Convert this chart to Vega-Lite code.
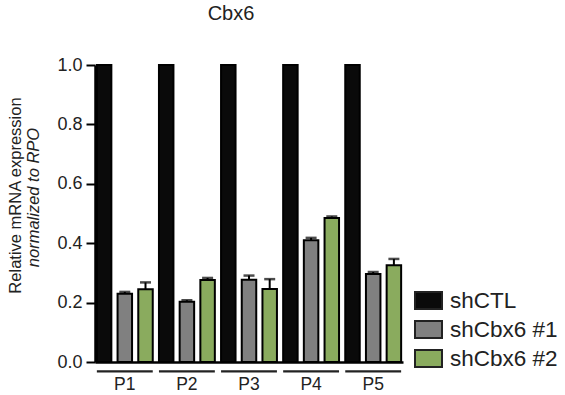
{
  "$schema": "https://vega.github.io/schema/vega-lite/v6.json",
  "autosize": "none",
  "width": 308,
  "height": 297,
  "padding": {"left": 95, "top": 65, "right": 162, "bottom": 33},
  "title": {"text": "Cbx6", "fontSize": 20, "fontWeight": "normal", "font": "Liberation Sans", "color": "#222", "anchor": "middle", "dx": -18, "offset": 32},
  "data": {"values": [
    {"group": "P1", "cond": "shCTL", "v": 1.0, "hi": null},
    {"group": "P1", "cond": "shCbx6 #1", "v": 0.230, "hi": 0.236},
    {"group": "P1", "cond": "shCbx6 #2", "v": 0.245, "hi": 0.268},
    {"group": "P2", "cond": "shCTL", "v": 1.0, "hi": null},
    {"group": "P2", "cond": "shCbx6 #1", "v": 0.203, "hi": 0.208},
    {"group": "P2", "cond": "shCbx6 #2", "v": 0.276, "hi": 0.283},
    {"group": "P3", "cond": "shCTL", "v": 1.0, "hi": null},
    {"group": "P3", "cond": "shCbx6 #1", "v": 0.277, "hi": 0.291},
    {"group": "P3", "cond": "shCbx6 #2", "v": 0.246, "hi": 0.279},
    {"group": "P4", "cond": "shCTL", "v": 1.0, "hi": null},
    {"group": "P4", "cond": "shCbx6 #1", "v": 0.410, "hi": 0.418},
    {"group": "P4", "cond": "shCbx6 #2", "v": 0.485, "hi": 0.490},
    {"group": "P5", "cond": "shCTL", "v": 1.0, "hi": null},
    {"group": "P5", "cond": "shCbx6 #1", "v": 0.296, "hi": 0.303},
    {"group": "P5", "cond": "shCbx6 #2", "v": 0.326, "hi": 0.347}
  ]},
  "encoding": {
    "x": {"field": "group", "type": "nominal", "sort": ["P1", "P2", "P3", "P4", "P5"],
      "scale": {"paddingInner": 0.1, "paddingOuter": 0.03},
      "axis": {"title": null, "labelAngle": 0, "ticks": false, "domainWidth": 2.5, "domainColor": "#000", "labelFontSize": 17.5, "labelPadding": 13, "labelColor": "#222"}},
    "xOffset": {"field": "cond", "type": "nominal", "sort": ["shCTL", "shCbx6 #1", "shCbx6 #2"], "scale": {"paddingInner": 0.3, "paddingOuter": 0}}
  },
  "layer": [
    {
      "mark": {"type": "bar", "stroke": "#000", "strokeWidth": 2},
      "encoding": {
        "y": {"field": "v", "type": "quantitative", "scale": {"domain": [0, 1], "nice": false},
          "axis": {"values": [0, 0.2, 0.4, 0.6, 0.8, 1.0], "format": ".1f", "title": "Relative mRNA expression", "titleFontSize": 16.5, "titleFontWeight": "normal", "titleColor": "#222", "titleX": -72, "titleY": 130, "labelFontSize": 18, "labelColor": "#222", "labelPadding": 4, "tickSize": 9, "tickWidth": 2, "tickColor": "#000", "domainWidth": 2.5, "domainColor": "#000", "grid": false}},
        "color": {"field": "cond", "type": "nominal", "sort": ["shCTL", "shCbx6 #1", "shCbx6 #2"],
          "scale": {"domain": ["shCTL", "shCbx6 #1", "shCbx6 #2"], "range": ["#0a0a0a", "#808080", "#8aab5e"]},
          "legend": {"title": null, "orient": "none", "legendX": 319, "legendY": 221, "symbolType": "M-1,-0.63L1,-0.63L1,0.63L-1,0.63Z", "symbolSize": 729, "symbolStrokeColor": "#222", "symbolStrokeWidth": 2, "symbolOpacity": 1, "labelFontSize": 22.5, "labelColor": "#222", "labelOffset": 7, "rowPadding": 1, "padding": 0}}
      }
    },
    {
      "mark": {"type": "rule", "strokeWidth": 2, "color": "#000"},
      "encoding": {
        "y": {"field": "v", "type": "quantitative", "axis": null},
        "y2": {"field": "hi"}
      }
    },
    {
      "mark": {"type": "tick", "size": 11, "thickness": 2.5, "color": "#000"},
      "encoding": {
        "y": {"field": "hi", "type": "quantitative", "axis": null}
      }
    },
    {
      "data": {"values": [{"group": "P1"}, {"group": "P2"}, {"group": "P3"}, {"group": "P4"}, {"group": "P5"}]},
      "mark": {"type": "rect", "color": "#222"},
      "encoding": {
        "xOffset": null,
        "y": {"datum": -0.028, "type": "quantitative", "axis": null},
        "y2": {"datum": -0.035}
      }
    },
    {
      "mark": {"type": "rule", "opacity": 0},
      "encoding": {
        "xOffset": null,
        "x": null,
        "y": {"field": "v", "type": "quantitative",
          "axis": {"orient": "left", "title": "normalized to RPO", "titleFontStyle": "italic", "titleFontSize": 16.5, "titleFontWeight": "normal", "titleColor": "#222", "titleX": -54, "titleY": 132, "labels": false, "ticks": false, "domain": false, "grid": false}}
      }
    }
  ],
  "resolve": {"axis": {"y": "independent"}},
  "config": {"view": {"stroke": null}, "font": "Liberation Sans"}
}
